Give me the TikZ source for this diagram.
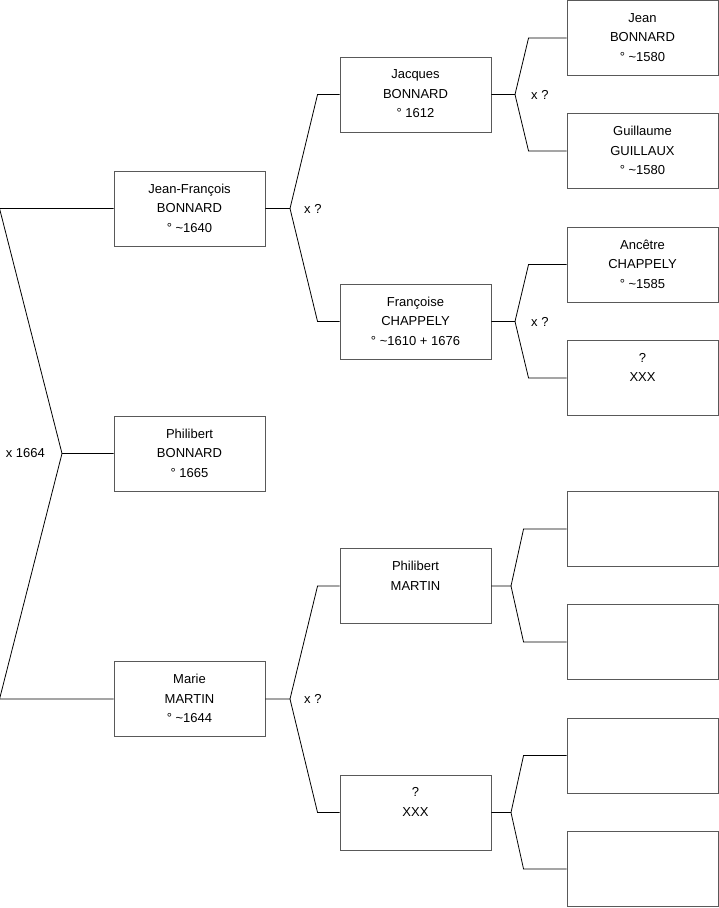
\documentclass[tikz,border=0pt]{standalone}
\usepackage{fontspec}
\setmainfont{Liberation Sans}
\usetikzlibrary{positioning}

\begin{document}
\begin{tikzpicture}[
    x=1pt, y=-1pt,
    person/.style={rectangle, draw=black!65, line width=0.9pt, minimum width=151pt, minimum height=75pt, inner sep=0pt},
    names/.style={align=center, inner sep=0pt, font=\fontsize{13}{19.5}\selectfont},
    link/.style={draw=black, line width=0.8pt},
    union/.style={inner sep=0pt, font=\fontsize{13}{15}\selectfont}
]
\useasboundingbox (0,0) rectangle (719,908);

% Generation 1 and 2
\node[person] (jf) at (189.5,208.5) {};
\node[person] (phil) at (189.5,453.5) {};
\node[person] (marie) at (189.5,699) {};

% Generation 3
\node[person] (jacques) at (415.5,94.5) {};
\node[person] (fran) at (415.5,321.5) {};
\node[person] (pmartin) at (415.5,586) {};
\node[person] (pxxx) at (415.5,812.5) {};

% Generation 4
\node[person] (jean) at (642.5,38) {};
\node[person] (guil) at (642.5,151) {};
\node[person] (anc) at (642.5,264.5) {};
\node[person] (axxx) at (642.5,378) {};
\node[person] (e1) at (642.5,529) {};
\node[person] (e2) at (642.5,642) {};
\node[person] (e3) at (642.5,755.5) {};
\node[person] (e4) at (642.5,869) {};

% Names
\node[names, below=13pt of jf.north] (jf-t) {Jean-François\\BONNARD\\° \textasciitilde1640};
\node[names, below=13pt of phil.north] (phil-t) {Philibert\\BONNARD\\° 1665};
\node[names, below=13pt of marie.north] (marie-t) {Marie\\MARTIN\\° \textasciitilde1644};
\node[names, below=13pt of jacques.north] (jacques-t) {Jacques\\BONNARD\\° 1612};
\node[names, below=13pt of fran.north] (fran-t) {Françoise\\CHAPPELY\\° \textasciitilde1610 + 1676};
\node[names, below=13pt of pmartin.north] (pmartin-t) {Philibert\\MARTIN};
\node[names, below=13pt of pxxx.north] (pxxx-t) {?\\XXX};
\node[names, below=13pt of jean.north] (jean-t) {Jean\\BONNARD\\° \textasciitilde1580};
\node[names, below=13pt of guil.north] (guil-t) {Guillaume\\GUILLAUX\\° \textasciitilde1580};
\node[names, below=13pt of anc.north] (anc-t) {Ancêtre\\CHAPPELY\\° \textasciitilde1585};
\node[names, below=13pt of axxx.north] (axxx-t) {?\\XXX};

% Branch points
\coordinate (phil-x) at (62,453.5);
\coordinate (jf-x) at (290,208.5);
\coordinate (marie-x) at (290,699);
\coordinate (jacques-x) at (515,94.5);
\coordinate (fran-x) at (515,321.5);
\coordinate (pmartin-x) at (511,586);
\coordinate (pxxx-x) at (511,812.5);

% Marriage labels
\node[union, left=17pt of phil-x] (phil-u) {x 1664};
\node[union, right=14pt of jf-x] (jf-u) {x ?};
\node[union, right=14pt of marie-x] (marie-u) {x ?};
\node[union, right=16pt of jacques-x] (jacques-u) {x ?};
\node[union, right=16pt of fran-x] (fran-u) {x ?};

% Links to parents
\draw[link] (phil.west) -- (phil-x) -- ([xshift=-114pt]jf.west) -- (jf.west);
\draw[link] (phil-x) -- ([xshift=-114pt]marie.west) -- (marie.west);

\draw[link] (jf.east) -- (jf-x) -- ([xshift=-22pt]jacques.west) -- (jacques.west);
\draw[link] (jf-x) -- ([xshift=-22pt]fran.west) -- (fran.west);
\draw[link] (marie.east) -- (marie-x) -- ([xshift=-22pt]pmartin.west) -- (pmartin.west);
\draw[link] (marie-x) -- ([xshift=-22pt]pxxx.west) -- (pxxx.west);

\draw[link] (jacques.east) -- (jacques-x) -- ([xshift=-38pt]jean.west) -- (jean.west);
\draw[link] (jacques-x) -- ([xshift=-38pt]guil.west) -- (guil.west);
\draw[link] (fran.east) -- (fran-x) -- ([xshift=-38pt]anc.west) -- (anc.west);
\draw[link] (fran-x) -- ([xshift=-38pt]axxx.west) -- (axxx.west);
\draw[link] (pmartin.east) -- (pmartin-x) -- ([xshift=-43pt]e1.west) -- (e1.west);
\draw[link] (pmartin-x) -- ([xshift=-43pt]e2.west) -- (e2.west);
\draw[link] (pxxx.east) -- (pxxx-x) -- ([xshift=-43pt]e3.west) -- (e3.west);
\draw[link] (pxxx-x) -- ([xshift=-43pt]e4.west) -- (e4.west);

\end{tikzpicture}
\end{document}
